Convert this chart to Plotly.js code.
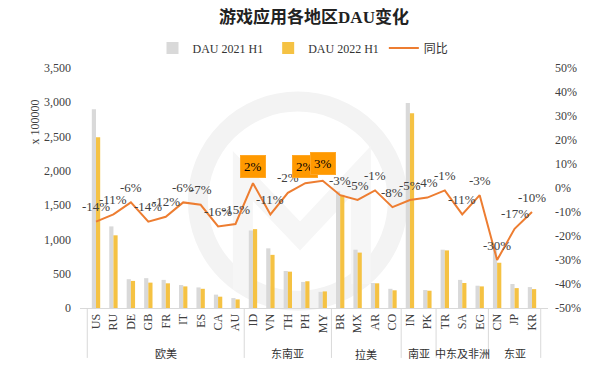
<!DOCTYPE html>
<html>
<head>
<meta charset="utf-8">
<script src="https://cdn.plot.ly/plotly-3.0.1.min.js"></script>
<style>html,body{margin:0;padding:0;background:#fff;}#chart{width:600px;height:375px;}</style>
</head>
<body>
<div id="chart"></div>
<script>
const categories = ['US','RU','DE','GB','FR','IT','ES','CA','AU','ID','VN','TH','PH','MY','BR','MX','AR','CO','IN','PK','TR','SA','EG','CN','JP','KR'];
const dau2021 = [2900,1190,420,435,410,335,300,195,145,1130,870,540,380,235,1700,850,365,280,2990,262,850,410,325,880,350,305];
const dau2022 = [2490,1060,395,370,360,315,280,165,125,1150,775,530,390,242,1650,808,360,258,2840,252,840,365,315,660,290,275];
const yoyPct = [-14,-11,-6,-14,-12,-6,-7,-16,-15,2,-11,-2,2,3,-3,-5,-1,-8,-5,-4,-1,-11,-3,-30,-17,-10];
const groupNames = ['欧美','东南亚','拉美','南亚','中东及非洲','东亚'];
const groupSizes = [9,5,4,2,3,3];
const leftTicks = [0,500,1000,1500,2000,2500,3000,3500];
const rightTicks = [-50,-40,-30,-20,-10,0,10,20,30,40,50];

const FONT = "'Liberation Serif', 'Times New Roman', 'Noto Sans CJK SC', serif";
const TXT = '#404040';

const traces = [
  {type:'bar', name:'DAU 2021 H1', x:categories, y:dau2021, marker:{color:'#D9D9D9'}},
  {type:'bar', name:'DAU 2022 H1', x:categories, y:dau2022, marker:{color:'#F5C243'}},
  {type:'scatter', mode:'lines', name:'同比', x:categories, y:yoyPct.map(v=>v/100), yaxis:'y2',
   line:{color:'#ED7D31', width:2}}
];

const annotations = [];
yoyPct.forEach((v,i)=>{
  const a = {x:categories[i], y:v/100, xref:'x', yref:'y2', text:v+'%', showarrow:false,
    font:{family:FONT, size:13, color: v>0 ? '#000' : TXT}, yshift:15};
  if (v>0){ a.bgcolor='#FF9900'; a.bordercolor='#FFA726'; a.borderpad=3; a.yshift=17; }
  annotations.push(a);
});
const shapes = [];
// watermark ring
shapes.push({type:'circle', xref:'paper', yref:'paper', x0:0.252, x1:0.679, y0:0.03, y1:0.86,
  line:{color:'#F3F3F3', width:20}, layer:'below'});
shapes.push({type:'path', xref:'paper', yref:'paper', layer:'below',
  path:'M 0.348 0.075 L 0.348 0.55 L 0.47 0.30 L 0.60 0.57 L 0.60 0.10',
  line:{color:'#F6F6F6', width:20}});
let start = 0;
const bounds = [-0.5];
groupSizes.forEach((n,gi)=>{
  const center = start + (n-1)/2;
  annotations.push({x:center, y:-0.192, xref:'x', yref:'paper', text:groupNames[gi], showarrow:false,
    font:{family:FONT, size:11, color:'#333'}, yanchor:'middle'});
  start += n;
  bounds.push(start-0.5);
});
bounds.forEach(b=>{
  shapes.push({type:'line', xref:'x', yref:'paper', x0:b, x1:b, y0:0, y1:-0.208,
    line:{color:'#D9D9D9', width:1}});
});
annotations.push({xref:'paper', yref:'paper', x:-0.1175, y:0.875, text:'x 100000', textangle:-90,
  showarrow:false, font:{family:FONT, size:12, color:TXT}});

const layout = {
  width:600, height:375,
  margin:{l:80, r:52, t:68, b:67},
  paper_bgcolor:'#fff', plot_bgcolor:'rgba(0,0,0,0)',
  title:{text:'<b>游戏应用各地区DAU变化</b>', x:0.5, xref:'paper', y:1-17/375, yref:'container', yanchor:'middle',
    font:{family:FONT, size:17, color:'#222'}},
  font:{family:FONT, size:12, color:TXT},
  barmode:'group', bargap:0.52, bargroupgap:0,
  showlegend:true,
  legend:{orientation:'h', xref:'container', yref:'container', x:0.505, xanchor:'center', y:1-48/375, yanchor:'middle',
    font:{family:FONT, size:12, color:'#333'}, traceorder:'normal'},
  xaxis:{type:'category', tickangle:-90, showline:true, linecolor:'#D9D9D9', linewidth:1, ticks:'',
    showgrid:false, zeroline:false, tickfont:{family:FONT, size:12, color:TXT}},
  yaxis:{range:[0,3500], tickvals:leftTicks, ticktext:leftTicks.map(v=>v.toLocaleString('en-US')),
    showgrid:false, zeroline:false, showline:false, ticks:'', ticklabelstandoff:8,
    tickfont:{family:FONT, size:12, color:TXT}},
  yaxis2:{overlaying:'y', side:'right', range:[-0.5,0.5], tickvals:rightTicks.map(v=>v/100),
    ticktext:rightTicks.map(v=>v+'%'), showgrid:false, zeroline:false, showline:false, ticks:'',
    ticklabelstandoff:6, tickfont:{family:FONT, size:12, color:TXT}},
  annotations, shapes
};
Plotly.newPlot('chart', traces, layout, {staticPlot:true, displayModeBar:false});
</script>
</body>
</html>
